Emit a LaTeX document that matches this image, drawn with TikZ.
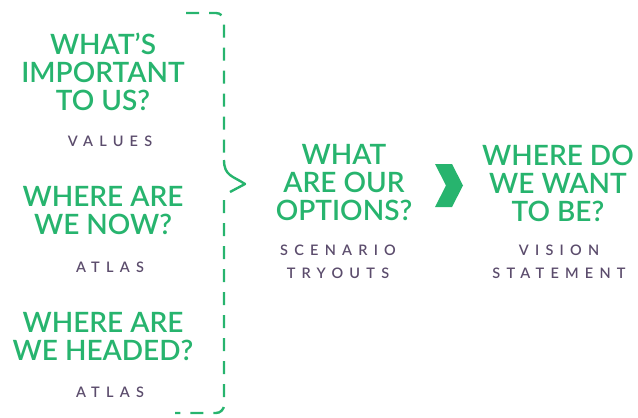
\documentclass[tikz,border=0pt]{standalone}
\usepackage{fontspec}
\setmainfont{Lato}[BoldFont={Lato Semibold}]
\usetikzlibrary{positioning}
\definecolor{leafgreen}{HTML}{27B46E}
\definecolor{duskpurple}{HTML}{5B4C6C}
\tikzstyle{question}=[inner sep=0, outer sep=0, align=center, text=leafgreen,
                      font=\bfseries\fontsize{28}{28}\selectfont]
\tikzstyle{subtitle}=[inner sep=0, outer sep=0, align=center, text=duskpurple,
                      font=\bfseries\fontsize{14.5}{23}\selectfont\addfontfeature{LetterSpace=43}]
\tikzstyle{bracket}=[draw=leafgreen, line width=2.4pt, dash pattern=on 13pt off 10pt, rounded corners=8pt]
\tikzstyle{brackettip}=[draw=leafgreen, line width=2.4pt, line join=round]

\begin{document}
\begin{tikzpicture}[x=1pt, y=-1pt]
        \useasboundingbox (0,0) rectangle (638,418);
        % left column
        \node[question] (q1) at (103,72) {WHAT’S\\IMPORTANT\\TO US?};
        \node[subtitle] (s1) at (110,141) {VALUES};
        \node[question] (q2) at (103,211) {WHERE ARE\\WE NOW?};
        \node[subtitle] (s2) at (110,267) {ATLAS};
        \node[question] (q3) at (103,337) {WHERE ARE\\WE HEADED?};
        \node[subtitle] (s3) at (110,392) {ATLAS};
        % bracket
        \draw[bracket] (186,13) -- (224,13) -- (224,160);
        \draw[brackettip] (224,160) .. controls (224,176) and (233,176) .. (245,184) -- (230,192);
        \draw[bracket] (224,200) -- (224,413) -- (175,413);
        % middle and right
        \node[question] (q4) at (344,183) {WHAT\\ARE OUR\\OPTIONS?};
        \node[subtitle] (s4) at (338,261.5) {SCENARIO\\TRYOUTS};
        \fill[leafgreen] (435,164) -- (452,164) -- (463,185.5) -- (452,207) -- (435,207) -- (446,185.5) -- cycle;
        \node[question] (q5) at (558,183) {WHERE DO\\WE WANT\\TO BE?};
        \node[subtitle] (s5) at (559,261.5) {VISION\\STATEMENT};
    \end{tikzpicture}
\end{document}
